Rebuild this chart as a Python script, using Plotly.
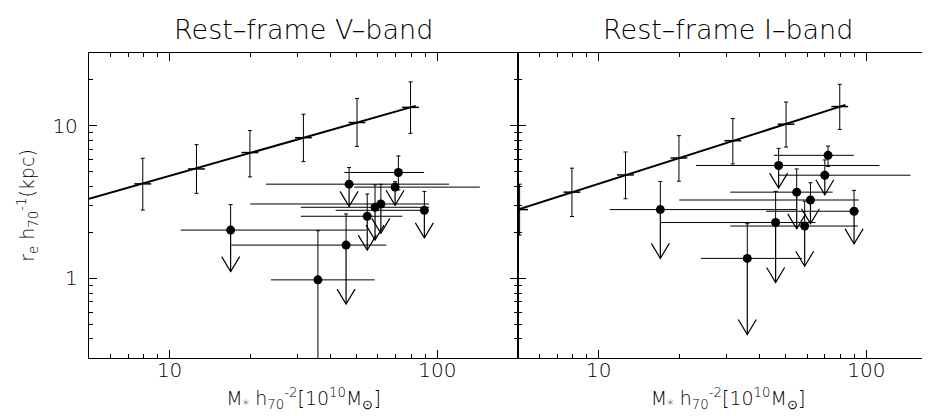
import numpy as np
import plotly.graph_objects as go
from plotly.subplots import make_subplots

# ---------------- data ----------------
# mean size-mass relation (crosses + line)
V_mean_x = [7.94, 12.6, 19.95, 31.6, 50.1, 79.4]
V_mean_y = [4.16, 5.21, 6.67, 8.35, 10.5, 13.2]
V_mean_hi = [6.12, 7.52, 9.31, 11.9, 15.1, 19.4]
V_mean_lo = [2.80, 3.60, 4.62, 5.82, 7.33, 8.91]
V_line_x = [5.0, 83.0]
V_line_y = [3.32, 13.5]

I_mean_x = [5.07, 7.95, 12.6, 19.95, 31.7, 50.1, 79.5]
I_mean_y = [2.82, 3.67, 4.76, 6.15, 7.98, 10.24, 13.36]
I_mean_hi = [4.14, 5.27, 6.73, 8.61, 11.16, 14.3, 18.7]
I_mean_lo = [1.92, 2.54, 3.32, 4.33, 5.62, 7.25, 9.46]
I_line_x = [5.0, 83.5]
I_line_y = [2.82, 13.7]

# galaxies, rest-frame V band
V_x = [16.9, 35.8, 45.6, 46.8, 54.7, 58.5, 61.5, 69.5, 71.5, 89.4]
V_y = [2.07, 0.976, 1.65, 4.14, 2.55, 2.92, 3.07, 3.96, 4.94, 2.79]
V_xlo = [11.0, 23.9, 17.0, 22.9, 30.9, 30.9, 20.0, 48.9, 44.9, 41.7]
V_xhi = [54.3, 58.3, 64.5, 110.6, 74.0, 93.1, 93.1, 144.0, 89.2, 91.0]
V_yhi = [3.04, 2.05, 2.64, 5.32, 3.57, 4.10, 4.13, 4.30, 6.34, 3.71]
V_ylo = [1.106, 0.2, 0.677, 2.96, 1.53, 1.78, 1.97, 3.01, 3.80, 1.84]
V_limit = [1, 0, 1, 1, 1, 1, 1, 1, 0, 1]

# galaxies, rest-frame I band
I_x = [17.0, 35.9, 45.8, 47.0, 54.9, 58.8, 61.8, 69.9, 71.9, 89.9]
I_y = [2.82, 1.35, 2.32, 5.49, 3.67, 2.20, 3.26, 4.74, 6.40, 2.75]
I_xlo = [11.0, 24.1, 17.0, 23.1, 31.0, 31.0, 20.0, 47.0, 45.1, 42.2]
I_xhi = [55.1, 57.5, 64.5, 111.8, 74.8, 92.8, 93.6, 146.0, 89.7, 93.6]
I_yhi = [4.31, 2.28, 3.71, 7.11, 5.21, 3.20, 4.23, 5.97, 7.36, 3.77]
I_ylo = [1.35, 0.428, 0.938, 3.90, 2.11, 1.20, 2.28, 3.53, 5.40, 1.68]
I_limit = [1, 1, 1, 1, 1, 1, 1, 1, 0, 1]

titles = ["Rest\u2013frame V\u2013band", "Rest\u2013frame I\u2013band"]
x_tick_vals = [10, 100]
y_tick_vals = [1, 10]
x_minor = [6, 7, 8, 9, 20, 30, 40, 50, 60, 70, 80, 90]
y_minor = [0.4, 0.5, 0.6, 0.7, 0.8, 0.9, 2, 3, 4, 5, 6, 7, 8, 9, 20]

FONT = "DejaVu Sans"
FW = 200
W, H = 930, 416
ML, MR, MT, MB = 81, 0, 45, 66
split = (510 - ML) / (W - ML - MR)

fig = make_subplots(rows=1, cols=2, horizontal_spacing=0)
fig.update_xaxes(domain=[0, split], row=1, col=1)
fig.update_xaxes(domain=[split, 1], row=1, col=2)

# arrowhead size in decades (style)
AH_DX = 9 / 268.0
AH_DY = 15 / 152.6


def add_panel(col, mx, my, mhi, mlo, lx, ly, gx, gy, gxlo, gxhi, gyhi, gylo, glim):
    fig.add_trace(go.Scatter(x=lx, y=ly, mode="lines",
                             line=dict(color="black", width=2), hoverinfo="skip"),
                  row=1, col=col)
    fig.add_trace(go.Scatter(
        x=mx, y=my, mode="markers",
        marker=dict(symbol="line-ew", size=12, line=dict(color="black", width=1.5)),
        error_y=dict(type="data", symmetric=False,
                     array=[h - v for h, v in zip(mhi, my)],
                     arrayminus=[v - l for l, v in zip(mlo, my)],
                     color="black", thickness=1, width=2)), row=1, col=col)
    up = [h - v for h, v in zip(gyhi, gy)]
    dn = [0 if lim else v - l for l, v, lim in zip(gylo, gy, glim)]
    fig.add_trace(go.Scatter(
        x=gx, y=gy, mode="markers",
        marker=dict(symbol="circle", size=9, color="black"),
        error_x=dict(type="data", symmetric=False,
                     array=[h - v for h, v in zip(gxhi, gx)],
                     arrayminus=[v - l for l, v in zip(gxlo, gx)],
                     color="black", thickness=1, width=0),
        error_y=dict(type="data", symmetric=False, array=up, arrayminus=dn,
                     color="black", thickness=1, width=2)), row=1, col=col)
    ax, ay = [], []
    for x, y, lo, lim in zip(gx, gy, gylo, glim):
        if not lim:
            continue
        ax += [x, x, None]
        ay += [y, lo, None]
        ax += [x * 10 ** (-AH_DX), x, x * 10 ** AH_DX, None]
        ay += [lo * 10 ** AH_DY, lo, lo * 10 ** AH_DY, None]
    fig.add_trace(go.Scatter(x=ax, y=ay, mode="lines",
                             line=dict(color="black", width=1.2),
                             hoverinfo="skip"), row=1, col=col)


add_panel(1, V_mean_x, V_mean_y, V_mean_hi, V_mean_lo, V_line_x, V_line_y,
          V_x, V_y, V_xlo, V_xhi, V_yhi, V_ylo, V_limit)
add_panel(2, I_mean_x, I_mean_y, I_mean_hi, I_mean_lo, I_line_x, I_line_y,
          I_x, I_y, I_xlo, I_xhi, I_yhi, I_ylo, I_limit)

xtitle = "M<sub>*</sub> h<sub>70</sub><sup>-2</sup>[10<sup>10</sup>M<sub>\u2299</sub>]"
ytitle = "r<sub>e</sub> h<sub>70</sub><sup>-1</sup>(kpc)"

axis_common = dict(type="log", showgrid=False, zeroline=False, showline=True,
                   linecolor="black", linewidth=1.3, mirror="ticks",
                   ticks="inside", ticklen=8, tickwidth=1, tickcolor="black",
                   tickfont=dict(family=FONT, size=20, color="black", weight=FW))

for col, rng in [(1, [np.log10(5), np.log10(200)]),
                 (2, [np.log10(5), np.log10(185)])]:
    fig.update_xaxes(**axis_common, range=rng, tickvals=x_tick_vals,
                     ticktext=[str(v) for v in x_tick_vals],
                     minor=dict(ticks="inside", ticklen=4, tickvals=x_minor,
                                tickcolor="black", showgrid=False),
                     ticklabelstandoff=-6,
                     title=dict(text=xtitle, standoff=10,
                                font=dict(family=FONT, size=19, color="black",
                                          weight=FW)),
                     row=1, col=col)
    fig.update_yaxes(**axis_common, range=[np.log10(0.3), np.log10(30)],
                     tickvals=y_tick_vals,
                     ticktext=[str(v) for v in y_tick_vals],
                     minor=dict(ticks="inside", ticklen=4, tickvals=y_minor,
                                tickcolor="black", showgrid=False),
                     showticklabels=(col == 1), ticklabelstandoff=6,
                     row=1, col=col)

fig.update_yaxes(title=dict(text=ytitle, standoff=12,
                            font=dict(family=FONT, size=19, color="black",
                                      weight=FW)),
                 row=1, col=1)

for i, t in enumerate(titles):
    fig.add_annotation(text=t, xref=f"x{'' if i == 0 else 2} domain", x=0.5,
                       yref="paper", y=(H - MB - 21) / (H - MT - MB),
                       showarrow=False, xanchor="center", yanchor="middle",
                       font=dict(family=FONT, size=27, color="black", weight=FW))

fig.update_layout(width=W, height=H, margin=dict(l=ML, r=MR, t=MT, b=MB),
                  paper_bgcolor="white", plot_bgcolor="white",
                  showlegend=False, font=dict(family=FONT, color="black"))

fig.write_html("out.html")
